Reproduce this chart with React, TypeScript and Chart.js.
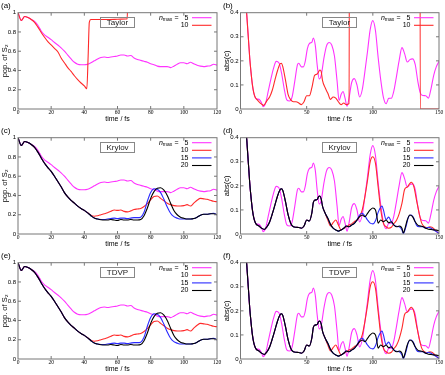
import React, { useEffect, useRef } from 'react';
import { Chart, registerables } from 'chart.js';
Chart.register(...registerables);

// ---------- tick values / labels ----------
const X_TICKS_POP = [0, 20, 40, 60, 80, 100, 120];
const X_LABELS_POP = ['0', '20', '40', '60', '80', '100', '120'];
const Y_TICKS_POP = [0, 0.2, 0.4, 0.6, 0.8, 1];
const Y_LABELS_POP = ['0', '0.2', '0.4', '0.6', '0.8', '1'];
const X_TICKS_ABS = [0, 50, 100, 150];
const X_LABELS_ABS = ['0', '50', '100', '150'];
const Y_TICKS_ABS = [0, 0.1, 0.2, 0.3, 0.4];
const Y_LABELS_ABS = ['0', '0.1', '0.2', '0.3', '0.4'];
const NMAX = ['5', '10', '15', '20'];
const METHODS = ['Taylor', 'Krylov', 'TDVP'];
const PANEL_LABELS = ['(a)', '(b)', '(c)', '(d)', '(e)', '(f)'];
const X_TITLE = 'time / fs';
const Y_TITLE_POP = 'pop. of S\u2082';
const Y_TITLE_ABS = 'abs(c)';

// ---------- population of S2: [time fs, value] ----------
const POP_N5: [number, number][] = [
  [0, 1], [2, 0.92], [4, 0.96], [6, 0.95], [8, 0.93], [10, 0.91], [12, 0.87], [14, 0.81], [16, 0.77], [18, 0.745],
  [20, 0.72], [22, 0.69], [24, 0.665], [26, 0.635], [28, 0.6], [30, 0.56], [32, 0.52], [34, 0.485], [36, 0.465], [38, 0.46],
  [40, 0.46], [42, 0.465], [44, 0.48], [46, 0.5], [48, 0.52], [50, 0.535], [52, 0.54], [54, 0.535], [56, 0.54], [58, 0.545],
  [60, 0.55], [62, 0.56], [64, 0.56], [66, 0.55], [68, 0.555], [70, 0.53], [72, 0.515], [74, 0.505], [76, 0.495], [78, 0.485],
  [80, 0.47], [82, 0.46], [84, 0.445], [86, 0.44], [88, 0.44], [90, 0.44], [92, 0.43], [94, 0.445], [96, 0.465], [98, 0.48],
  [100, 0.48], [102, 0.47], [104, 0.485], [106, 0.47], [108, 0.455], [110, 0.445], [112, 0.44], [114, 0.445], [116, 0.45], [118, 0.465],
  [120, 0.455],
];
const POP_TAYLOR_N10: [number, number][] = [
  [0, 1], [2, 0.92], [4, 0.96], [6, 0.95], [8, 0.93], [10, 0.9], [12, 0.85], [14, 0.795], [16, 0.745], [18, 0.7],
  [20, 0.665], [22, 0.63], [24, 0.595], [26, 0.53], [28, 0.48], [30, 0.43], [32, 0.39], [34, 0.345], [36, 0.305], [38, 0.27],
  [40, 0.24], [41.5, 0.21], [42.3, 0.55], [43, 0.9], [44, 0.93], [50, 0.93], [55, 0.93], [60, 0.932], [65, 0.935], [65.8, 0.938],
  [66.5, 1.3], [70, 1.5], [120, 1.5],
];
const POP_KRYLOV_N10: [number, number][] = [
  [0, 1], [2, 0.92], [4, 0.96], [6, 0.95], [8, 0.93], [10, 0.9], [12, 0.85], [14, 0.79], [16, 0.735], [18, 0.69],
  [20, 0.65], [22, 0.6], [24, 0.545], [26, 0.49], [28, 0.43], [30, 0.385], [32, 0.35], [34, 0.32], [36, 0.29], [38, 0.265],
  [40, 0.245], [42, 0.22], [44, 0.195], [46, 0.185], [48, 0.19], [50, 0.2], [52, 0.21], [54, 0.22], [56, 0.235], [58, 0.25],
  [60, 0.245], [62, 0.25], [64, 0.235], [66, 0.23], [68, 0.24], [70, 0.255], [72, 0.26], [74, 0.265], [76, 0.285], [78, 0.315],
  [80, 0.355], [82, 0.39], [84, 0.395], [86, 0.37], [88, 0.345], [90, 0.32], [92, 0.305], [94, 0.295], [96, 0.29], [98, 0.29],
  [100, 0.295], [102, 0.305], [104, 0.29], [106, 0.32], [108, 0.35], [110, 0.37], [112, 0.365], [114, 0.36], [116, 0.35], [118, 0.34],
  [120, 0.335],
];
const POP_KRYLOV_N15: [number, number][] = [
  [0, 1], [2, 0.92], [4, 0.96], [6, 0.95], [8, 0.93], [10, 0.9], [12, 0.85], [14, 0.79], [16, 0.735], [18, 0.69],
  [20, 0.65], [22, 0.6], [24, 0.545], [26, 0.49], [28, 0.43], [30, 0.385], [32, 0.35], [34, 0.32], [36, 0.29], [38, 0.265],
  [40, 0.245], [42, 0.22], [44, 0.19], [46, 0.165], [48, 0.155], [50, 0.15], [52, 0.15], [54, 0.155], [56, 0.16], [58, 0.165],
  [60, 0.16], [62, 0.165], [64, 0.165], [66, 0.16], [68, 0.165], [70, 0.17], [72, 0.17], [74, 0.175], [76, 0.225], [78, 0.34],
  [80, 0.43], [82, 0.47], [84, 0.465], [86, 0.43], [88, 0.36], [90, 0.28], [92, 0.215], [94, 0.18], [96, 0.165], [98, 0.155],
  [100, 0.155], [102, 0.155], [104, 0.155], [106, 0.16], [108, 0.175], [110, 0.195], [112, 0.205], [114, 0.205], [116, 0.21], [118, 0.215],
  [120, 0.2],
];
const POP_KRYLOV_N20: [number, number][] = [
  [0, 1], [2, 0.92], [4, 0.96], [6, 0.95], [8, 0.93], [10, 0.9], [12, 0.85], [14, 0.79], [16, 0.735], [18, 0.69],
  [20, 0.65], [22, 0.6], [24, 0.545], [26, 0.49], [28, 0.43], [30, 0.385], [32, 0.35], [34, 0.32], [36, 0.29], [38, 0.265],
  [40, 0.245], [42, 0.22], [44, 0.19], [46, 0.165], [48, 0.155], [50, 0.148], [52, 0.145], [54, 0.145], [56, 0.15], [58, 0.145],
  [60, 0.14], [62, 0.15], [64, 0.145], [66, 0.145], [68, 0.15], [70, 0.145], [72, 0.145], [74, 0.15], [76, 0.19], [78, 0.27],
  [80, 0.37], [82, 0.44], [84, 0.475], [86, 0.48], [88, 0.455], [90, 0.4], [92, 0.32], [94, 0.245], [96, 0.2], [98, 0.175],
  [100, 0.163], [102, 0.155], [104, 0.155], [106, 0.16], [108, 0.175], [110, 0.195], [112, 0.205], [114, 0.205], [116, 0.21], [118, 0.21],
  [120, 0.2],
];

// ---------- abs(c): [time fs, value] ----------
const ABS_N5: [number, number][] = [
  [0, 1], [2, 0.8], [4, 0.46], [5, 0.37], [6, 0.29], [7, 0.21], [8, 0.15], [9, 0.1], [10, 0.068], [11, 0.05],
  [12, 0.042], [14, 0.04], [16, 0.025], [17, 0.01], [19, 0.025], [21, 0.075], [23, 0.125], [25, 0.17], [27, 0.198], [29, 0.192],
  [31, 0.15], [33, 0.085], [35, 0.038], [37, 0.033], [39, 0.05], [41, 0.115], [43, 0.183], [44, 0.19], [46, 0.175], [47.5, 0.175],
  [49, 0.2], [50.5, 0.25], [52, 0.272], [54, 0.278], [55, 0.295], [56.5, 0.265], [58, 0.18], [59.5, 0.125], [61, 0.14], [63, 0.21],
  [65, 0.262], [67, 0.276], [69, 0.265], [71, 0.22], [73, 0.115], [74.5, 0.035], [76, 0.06], [77.5, 0.073], [79, 0.045], [80.5, 0.012],
  [82, 0.045], [84, 0.11], [86, 0.126], [88, 0.1], [90, 0.05], [92, 0.08], [94, 0.155], [96, 0.24], [98, 0.33], [100, 0.367],
  [102, 0.325], [104, 0.215], [106, 0.12], [108, 0.048], [110, 0.022], [112, 0.044], [114, 0.045], [116, 0.078], [118, 0.14], [120, 0.205],
  [122, 0.255], [124, 0.23], [126, 0.195], [128, 0.205], [130, 0.208], [132, 0.185], [134, 0.115], [136, 0.065], [138, 0.056], [140, 0.055],
  [142, 0.045], [144, 0.085], [146, 0.14], [148, 0.176], [150, 0.198],
];
const ABS_TAYLOR_N10: [number, number][] = [
  [0, 1], [2, 0.8], [4, 0.46], [5, 0.37], [6, 0.29], [7, 0.21], [8, 0.15], [9, 0.1], [10, 0.068], [11, 0.05],
  [12, 0.042], [14, 0.03], [16, 0.02], [17.5, 0.015], [20, 0.035], [22, 0.05], [24, 0.078], [26, 0.12], [28, 0.16], [30, 0.188],
  [31, 0.19], [32, 0.175], [34, 0.12], [36, 0.06], [38, 0.038], [40, 0.03], [42, 0.03], [44, 0.025], [46, 0.018], [48, 0.03],
  [50, 0.055], [52, 0.055], [54, 0.09], [56, 0.14], [58, 0.145], [60, 0.162], [61, 0.155], [62, 0.118], [64, 0.088], [66, 0.065],
  [68, 0.04], [70, 0.05], [72, 0.045], [74, 0.03], [76, 0.018], [78, 0.025], [80, 0.018], [82, 0.022], [82.7, 2], [135.5, 2],
  [135.8, 0], [150, 0],
];
const ABS_KRYLOV_N10: [number, number][] = [
  [0, 1], [2, 0.8], [4, 0.46], [5, 0.37], [6, 0.29], [7, 0.21], [8, 0.15], [9, 0.1], [10, 0.068], [11, 0.05],
  [12, 0.04], [14, 0.033], [16, 0.024], [18, 0.019], [20, 0.03], [22, 0.05], [24, 0.083], [26, 0.12], [28, 0.158], [30, 0.185],
  [31, 0.188], [32, 0.18], [34, 0.134], [36, 0.079], [38, 0.044], [40, 0.03], [42, 0.028], [44, 0.027], [46, 0.024], [48, 0.033],
  [50, 0.058], [52, 0.054], [54, 0.09], [55, 0.13], [56, 0.14], [58, 0.144], [59, 0.155], [60, 0.158], [61, 0.145], [62, 0.115],
  [64, 0.086], [66, 0.058], [68, 0.033], [70, 0.047], [72, 0.058], [74, 0.037], [76, 0.017], [78, 0.024], [80, 0.03], [82, 0.037],
  [84, 0.042], [86, 0.051], [88, 0.058], [90, 0.072], [92, 0.1], [94, 0.155], [96, 0.224], [98, 0.3], [100, 0.321], [102, 0.293],
  [104, 0.197], [106, 0.1], [108, 0.044], [110, 0.03], [112, 0.024], [114, 0.028], [116, 0.044], [118, 0.058], [120, 0.086], [122, 0.127],
  [124, 0.185], [126, 0.195], [128, 0.21], [129, 0.215], [131, 0.197], [133, 0.141], [135, 0.086], [137, 0.044], [139, 0.03], [141, 0.025],
  [143, 0.03], [145, 0.027], [147, 0.017], [149, 0.006], [150, 0.003],
];
const ABS_KRYLOV_N15: [number, number][] = [
  [0, 1], [2, 0.8], [4, 0.46], [5, 0.37], [6, 0.29], [7, 0.21], [8, 0.15], [9, 0.1], [10, 0.068], [11, 0.05],
  [12, 0.04], [14, 0.033], [16, 0.024], [18, 0.019], [20, 0.03], [22, 0.05], [24, 0.083], [26, 0.12], [28, 0.158], [30, 0.185],
  [31, 0.188], [32, 0.18], [34, 0.134], [36, 0.079], [38, 0.044], [40, 0.03], [42, 0.028], [44, 0.027], [46, 0.024], [48, 0.033],
  [50, 0.058], [52, 0.054], [54, 0.09], [55, 0.13], [56, 0.14], [58, 0.144], [59, 0.155], [60, 0.158], [61, 0.145], [62, 0.115],
  [64, 0.086], [66, 0.065], [68, 0.04], [70, 0.024], [72, 0.017], [74, 0.012], [76, 0.017], [78, 0.024], [80, 0.033], [82, 0.03],
  [84, 0.037], [86, 0.044], [88, 0.058], [90, 0.079], [92, 0.086], [94, 0.075], [96, 0.058], [98, 0.045], [100, 0.042], [102, 0.055],
  [104, 0.09], [106, 0.112], [107, 0.116], [108, 0.1], [110, 0.06], [112, 0.07], [114, 0.05], [116, 0.037], [118, 0.032], [120, 0.03],
  [122, 0.017], [123, 0.002], [125, 0.03], [127, 0.072], [129, 0.079], [131, 0.065], [133, 0.037], [135, 0.03], [138, 0.03], [140, 0.024],
  [142, 0.028], [144, 0.024], [146, 0.017], [148, 0.01], [150, 0.003],
];
const ABS_KRYLOV_N20: [number, number][] = [
  [0, 1], [2, 0.8], [4, 0.46], [5, 0.37], [6, 0.29], [7, 0.21], [8, 0.15], [9, 0.1], [10, 0.068], [11, 0.05],
  [12, 0.04], [14, 0.033], [16, 0.024], [18, 0.019], [20, 0.03], [22, 0.05], [24, 0.083], [26, 0.12], [28, 0.158], [30, 0.185],
  [31, 0.188], [32, 0.18], [34, 0.134], [36, 0.079], [38, 0.044], [40, 0.03], [42, 0.028], [44, 0.027], [46, 0.024], [48, 0.033],
  [50, 0.058], [52, 0.054], [54, 0.09], [55, 0.13], [56, 0.14], [58, 0.144], [59, 0.155], [60, 0.158], [61, 0.145], [62, 0.115],
  [64, 0.086], [66, 0.065], [68, 0.04], [70, 0.024], [72, 0.017], [74, 0.012], [76, 0.017], [78, 0.024], [80, 0.033], [82, 0.03],
  [84, 0.037], [86, 0.044], [88, 0.058], [90, 0.072], [92, 0.079], [94, 0.072], [96, 0.086], [98, 0.1], [100, 0.108], [102, 0.1],
  [103, 0.075], [104, 0.045], [106, 0.058], [108, 0.051], [110, 0.058], [112, 0.047], [114, 0.051], [116, 0.037], [118, 0.03], [120, 0.033],
  [122, 0.024], [123, 0.004], [124, 0.017], [126, 0.058], [128, 0.079], [130, 0.072], [132, 0.051], [134, 0.037], [136, 0.033], [138, 0.03],
  [140, 0.024], [142, 0.02], [144, 0.019], [146, 0.017], [148, 0.016], [150, 0.014],
];

// ---------- styles ----------
const COLORS = ['#ff33ff', '#ff2a2a', '#2a2aff', '#000000'];
const FRAME = '#777777';
const SANS = '"Liberation Sans", Arial, sans-serif';
const SERIF = '"Liberation Serif", serif';

type PanelDef = {
  label: string;
  method: string;
  kind: 'pop' | 'abs';
  series: [number, number][][];
};

const PANELS: PanelDef[] = [
  { label: PANEL_LABELS[0], method: METHODS[0], kind: 'pop', series: [POP_N5, POP_TAYLOR_N10] },
  { label: PANEL_LABELS[1], method: METHODS[0], kind: 'abs', series: [ABS_N5, ABS_TAYLOR_N10] },
  { label: PANEL_LABELS[2], method: METHODS[1], kind: 'pop', series: [POP_N5, POP_KRYLOV_N10, POP_KRYLOV_N15, POP_KRYLOV_N20] },
  { label: PANEL_LABELS[3], method: METHODS[1], kind: 'abs', series: [ABS_N5, ABS_KRYLOV_N10, ABS_KRYLOV_N15, ABS_KRYLOV_N20] },
  { label: PANEL_LABELS[4], method: METHODS[2], kind: 'pop', series: [POP_N5, POP_KRYLOV_N10, POP_KRYLOV_N15, POP_KRYLOV_N20] },
  { label: PANEL_LABELS[5], method: METHODS[2], kind: 'abs', series: [ABS_N5, ABS_KRYLOV_N10, ABS_KRYLOV_N15, ABS_KRYLOV_N20] },
];

const decorPlugin = {
  id: 'decor',
  afterDraw(chart: any) {
    const o = chart.options.plugins.decor;
    if (!o || !o.label) return;
    const { ctx, chartArea: ca } = chart;
    const xs = chart.scales.x;
    const ys = chart.scales.y;
    ctx.save();
    // frame
    ctx.strokeStyle = FRAME;
    ctx.lineWidth = 1;
    ctx.strokeRect(ca.left, ca.top, ca.right - ca.left, ca.bottom - ca.top);
    // inward ticks, mirrored
    ctx.beginPath();
    for (const t of xs.ticks) {
      const px = xs.getPixelForValue(t.value);
      if (px <= ca.left + 1 || px >= ca.right - 1) continue;
      ctx.moveTo(px, ca.bottom); ctx.lineTo(px, ca.bottom - 3);
      ctx.moveTo(px, ca.top); ctx.lineTo(px, ca.top + 3);
    }
    for (const t of ys.ticks) {
      const py = ys.getPixelForValue(t.value);
      if (py <= ca.top + 1 || py >= ca.bottom - 1) continue;
      ctx.moveTo(ca.left, py); ctx.lineTo(ca.left + 3, py);
      ctx.moveTo(ca.right, py); ctx.lineTo(ca.right - 3, py);
    }
    ctx.stroke();
    // panel label
    ctx.fillStyle = '#000';
    ctx.textBaseline = 'middle';
    ctx.textAlign = 'left';
    ctx.font = `8px ${SANS}`;
    ctx.fillText(o.label, 1, 6);
    // method box
    ctx.strokeStyle = '#888';
    ctx.strokeRect(100.5, 17.5, 34, 10);
    ctx.textAlign = 'center';
    ctx.font = `8px ${SANS}`;
    ctx.fillStyle = '#222';
    ctx.fillText(o.method, 117.5, 22.8);
    // legend
    const ds = chart.data.datasets;
    ds.forEach((d: any, i: number) => {
      const y = 17.7 + i * 7.6;
      ctx.fillStyle = '#000';
      if (i === 0) {
        ctx.textAlign = 'left';
        ctx.font = `italic 7px ${SANS}`;
        ctx.fillText('n', 159, y);
        ctx.font = `5px ${SANS}`;
        ctx.fillText('max', 162.8, y + 1.8);
        ctx.font = `7px ${SANS}`;
        ctx.fillText('=', 174.5, y);
      }
      ctx.textAlign = 'right';
      ctx.font = `7px ${SANS}`;
      ctx.fillText(d.legendText, 188.5, y);
      ctx.strokeStyle = d.borderColor;
      ctx.lineWidth = 1.1;
      ctx.beginPath();
      ctx.moveTo(192, y);
      ctx.lineTo(211.5, y);
      ctx.stroke();
    });
    ctx.restore();
  },
};

function Panel({ def, left, top, width }: { def: PanelDef; left: number; top: number; width: number }) {
  const ref = useRef<HTMLCanvasElement>(null);
  useEffect(() => {
    const isPop = def.kind === 'pop';
    const xTicks = isPop ? X_TICKS_POP : X_TICKS_ABS;
    const xLabels = isPop ? X_LABELS_POP : X_LABELS_ABS;
    const yTicks = isPop ? Y_TICKS_POP : Y_TICKS_ABS;
    const yLabels = isPop ? Y_LABELS_POP : Y_LABELS_ABS;
    const yAxisWidth = isPop ? 18 : 18.5;
    const n = def.series.length;
    const chart = new Chart(ref.current as HTMLCanvasElement, {
      type: 'line',
      data: {
        datasets: def.series.map((s, i) => ({
          label: 'n_max = ' + NMAX[i],
          legendText: NMAX[i],
          data: s.map(([t, v]) => ({ x: t, y: v })),
          borderColor: COLORS[i],
          borderWidth: 1.1,
          pointRadius: 0,
          fill: false,
          cubicInterpolationMode: 'monotone',
          order: n - i,
        })) as any,
      },
      options: {
        responsive: false,
        animation: false,
        events: [],
        layout: { padding: { left: 0, right: width - 217 - (isPop ? 0 : 0), top: 12.7, bottom: 0 } },
        plugins: {
          legend: { display: false },
          tooltip: { enabled: false },
          decor: { label: def.label, method: def.method },
        } as any,
        scales: {
          x: {
            type: 'linear',
            min: 0,
            max: isPop ? 120 : 150,
            grid: { display: false, drawTicks: false },
            border: { display: false },
            afterBuildTicks: (s: any) => { s.ticks = xTicks.map((v) => ({ value: v })); },
            afterFit: (s: any) => { s.height = 16; },
            ticks: {
              autoSkip: false,
              maxRotation: 0,
              padding: 0.5,
              color: '#000',
              font: { family: SERIF, size: 5.5 },
              callback: (_v: any, i: number) => xLabels[i],
            },
            title: {
              display: true,
              text: X_TITLE,
              color: '#000',
              font: { family: SANS, size: 7 },
              padding: { top: 0, bottom: 1.8 },
            },
          },
          y: {
            type: 'linear',
            min: 0,
            max: isPop ? 1 : 0.4,
            grid: { display: false, drawTicks: false },
            border: { display: false },
            afterBuildTicks: (s: any) => { s.ticks = yTicks.map((v) => ({ value: v })); },
            afterFit: (s: any) => { s.width = yAxisWidth; },
            ticks: {
              autoSkip: false,
              padding: 2,
              color: '#000',
              font: { family: SANS, size: 6 },
              callback: (_v: any, i: number) => yLabels[i],
            },
            title: {
              display: true,
              text: isPop ? Y_TITLE_POP : Y_TITLE_ABS,
              color: '#000',
              font: { family: SANS, size: 7.5 },
              padding: { top: 0.8, bottom: 0 },
            },
          },
        },
      },
      plugins: [decorPlugin],
    });
    return () => chart.destroy();
  }, []);
  return (
    <canvas
      ref={ref}
      width={width}
      height={125}
      style={{ position: 'absolute', left, top, width, height: 125 }}
    />
  );
}

export default function App() {
  return (
    <div style={{ position: 'absolute', left: 0, top: 0, width: 445, height: 375, background: '#fff' }}>
      {PANELS.map((p, i) => (
        <Panel
          key={p.label}
          def={p}
          left={i % 2 === 0 ? 0 : 222}
          top={Math.floor(i / 2) * 125}
          width={i % 2 === 0 ? 222 : 223}
        />
      ))}
    </div>
  );
}
